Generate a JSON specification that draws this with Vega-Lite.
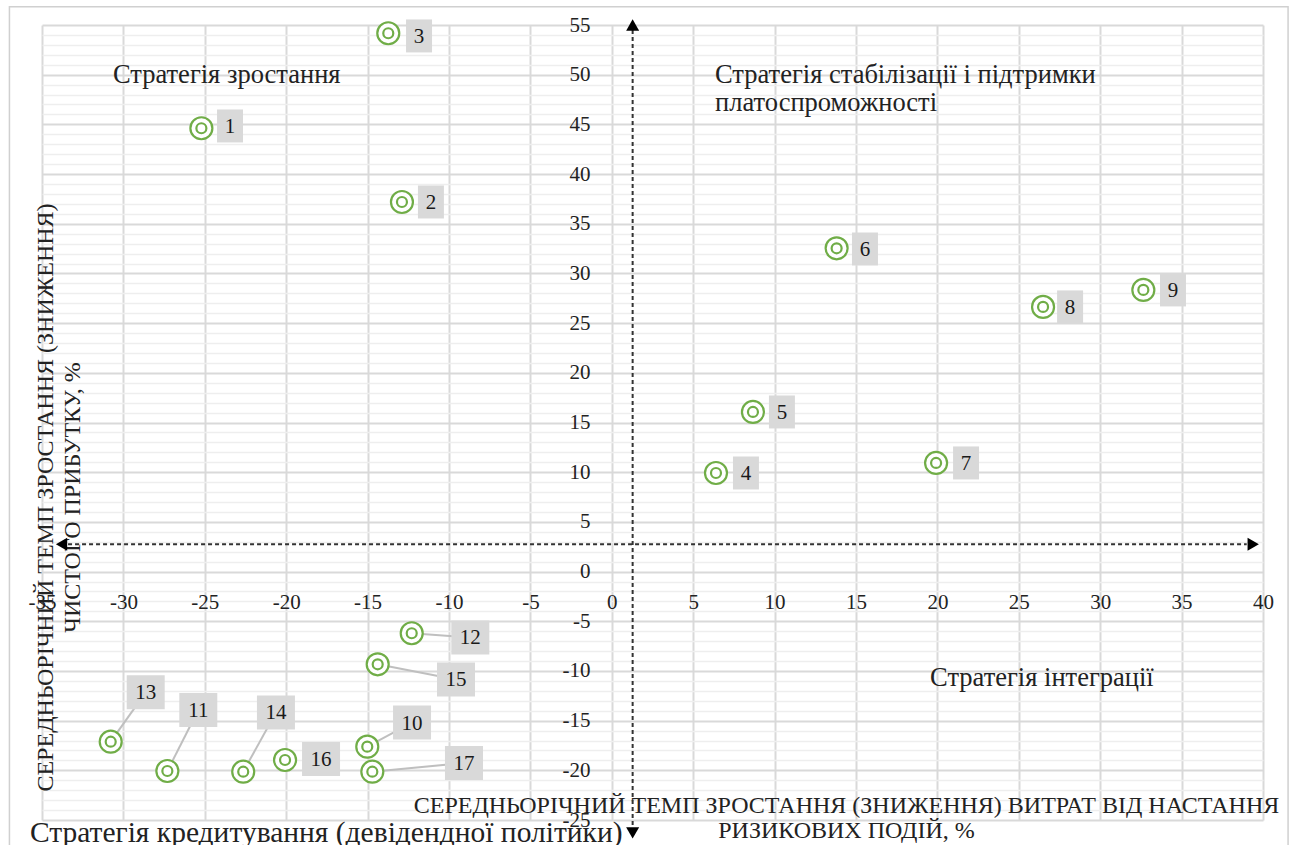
{
  "$schema": "https://vega.github.io/schema/vega-lite/v6.json",
  "width": 1221,
  "height": 795,
  "autosize": "none",
  "padding": {"left": 42, "top": 25, "right": 27, "bottom": 25},
  "background": "white",
  "config": {"view": {"stroke": null}, "font": "Liberation Serif"},
  "datasets": {
    "pts": [
      {"label": "1", "x": -25.21, "y": 44.61, "bx": -23.45, "by": 44.84, "leader": false},
      {"label": "2", "x": -12.89, "y": 37.19, "bx": -11.11, "by": 37.19, "leader": false},
      {"label": "3", "x": -13.73, "y": 54.17, "bx": -11.84, "by": 53.9, "leader": false},
      {"label": "4", "x": 6.4, "y": 9.92, "bx": 8.24, "by": 9.92, "leader": false},
      {"label": "5", "x": 8.67, "y": 16.06, "bx": 10.45, "by": 16.06, "leader": false},
      {"label": "6", "x": 13.81, "y": 32.53, "bx": 15.55, "by": 32.46, "leader": false},
      {"label": "7", "x": 19.92, "y": 10.93, "bx": 21.76, "by": 10.93, "leader": false},
      {"label": "8", "x": 26.49, "y": 26.63, "bx": 28.15, "by": 26.63, "leader": false},
      {"label": "9", "x": 32.65, "y": 28.34, "bx": 34.47, "by": 28.34, "leader": false},
      {"label": "10", "x": -15.02, "y": -17.62, "bx": -12.27, "by": -15.2, "leader": true},
      {"label": "11", "x": -27.3, "y": -20.07, "bx": -25.4, "by": -13.93, "leader": true},
      {"label": "12", "x": -12.29, "y": -6.21, "bx": -8.69, "by": -6.63, "leader": true},
      {"label": "13", "x": -30.78, "y": -17.12, "bx": -28.63, "by": -12.15, "leader": true},
      {"label": "14", "x": -22.64, "y": -20.14, "bx": -20.63, "by": -14.18, "leader": true},
      {"label": "15", "x": -14.38, "y": -9.33, "bx": -9.57, "by": -10.86, "leader": true},
      {"label": "16", "x": -20.07, "y": -18.96, "bx": -17.86, "by": -18.86, "leader": false},
      {"label": "17", "x": -14.71, "y": -20.14, "bx": -9.08, "by": -19.26, "leader": true}
    ],
    "notes": [
      {"t": "Стратегія зростання", "x": -30.64, "y": 49.97, "big": false},
      {"t": "Стратегія стабілізації і підтримки", "x": 6.34, "y": 49.97, "big": false},
      {"t": "платоспроможності", "x": 6.34, "y": 47.15, "big": false},
      {"t": "Стратегія інтеграції", "x": 19.55, "y": -10.71, "big": false},
      {"t": "Стратегія кредитування (девідендної політики)", "x": -35.74, "y": -26.3, "big": true}
    ],
    "dividers": [
      {"x": 1.28, "x2": 1.28, "y": 54.5, "y2": -25.8},
      {"x": -33.4, "x2": 39.0, "y": 2.75, "y2": 2.75}
    ],
    "heads": [
      {"x": 1.28, "y": 55.0, "dir": "up"},
      {"x": 1.28, "y": -26.3, "dir": "down"},
      {"x": -33.8, "y": 2.75, "dir": "left"},
      {"x": 39.4, "y": 2.75, "dir": "right"}
    ],
    "frame": [
      {"x": -37.0, "x2": 41.54, "y": 56.84, "y2": -28.5}
    ]
  },
  "encoding": {
    "x": {
      "field": "x", "type": "quantitative",
      "scale": {"domain": [-35, 40], "nice": false, "zero": false},
      "axis": {
        "values": [-35, -30, -25, -20, -15, -10, -5, 0, 5, 10, 15, 20, 25, 30, 35, 40],
        "labelExpr": "'' + datum.value",
        "grid": true, "gridColor": "#D9D9D9", "gridWidth": 2,
        "domain": false, "ticks": false,
        "offset": -248.4, "labelPadding": 20,
        "labelFont": "Liberation Serif", "labelFontSize": 21, "labelColor": "#222222",
        "labelFlush": false, "labelOverlap": false,
        "title": ["СЕРЕДНЬОРІЧНИЙ ТЕМП ЗРОСТАННЯ (ЗНИЖЕННЯ) ВИТРАТ ВІД НАСТАННЯ", "РИЗИКОВИХ ПОДІЙ, %"],
        "titleX": 804, "titleY": 233.4, "titleAlign": "center", "titleBaseline": "middle",
        "titleFont": "Liberation Serif", "titleFontSize": 24, "titleFontWeight": "normal",
        "titleColor": "#222222", "titleLineHeight": 25, "zindex": 0
      }
    },
    "y": {
      "field": "y", "type": "quantitative",
      "scale": {"domain": [-25, 55], "nice": false, "zero": false},
      "axis": {
        "values": [-25,-24,-23,-22,-21,-20,-19,-18,-17,-16,-15,-14,-13,-12,-11,-10,-9,-8,-7,-6,-5,-4,-3,-2,-1,0,1,2,3,4,5,6,7,8,9,10,11,12,13,14,15,16,17,18,19,20,21,22,23,24,25,26,27,28,29,30,31,32,33,34,35,36,37,38,39,40,41,42,43,44,45,46,47,48,49,50,51,52,53,54,55],
        "grid": true,
        "gridColor": {"condition": {"test": "datum.value % 5 === 0", "value": "#D9D9D9"}, "value": "#EEEEEE"},
        "gridWidth": {"condition": {"test": "datum.value % 5 === 0", "value": 2}, "value": 1.5},
        "labelExpr": "datum.value % 5 === 0 ? '' + datum.value : ''",
        "domain": false, "ticks": false,
        "offset": -570, "labelPadding": 22,
        "labelFont": "Liberation Serif", "labelFontSize": 21, "labelColor": "#222222",
        "labelFlush": false, "labelOverlap": false,
        "title": ["СЕРЕДНЬОРІЧНИЙ ТЕМП ЗРОСТАННЯ (ЗНИЖЕННЯ)", "ЧИСТОГО ПРИБУТКУ, %"],
        "titleX": -566.8, "titleY": 472, "titleAngle": -90, "titleAlign": "center", "titleBaseline": "middle",
        "titleFont": "Liberation Serif", "titleFontSize": 24, "titleFontWeight": "normal",
        "titleColor": "#222222", "titleLineHeight": 27, "zindex": 0
      }
    }
  },
  "layer": [
    {
      "data": {"name": "frame"},
      "mark": {"type": "rect", "fill": null, "stroke": "#D0D0D0", "strokeWidth": 1.5},
      "encoding": {
        "x2": {"field": "x2"},
        "y2": {"field": "y2"}
      }
    },
    {
      "data": {"name": "dividers"},
      "mark": {"type": "rule", "color": "#333333", "strokeWidth": 2, "strokeDash": [4, 3]},
      "encoding": {
        "x2": {"field": "x2"},
        "y2": {"field": "y2"}
      }
    },
    {
      "data": {"name": "heads"},
      "mark": {"type": "point", "filled": true, "color": "#000000", "size": 170, "opacity": 1},
      "encoding": {
        "shape": {
          "field": "dir", "type": "nominal", "legend": null,
          "scale": {"domain": ["up", "down", "left", "right"], "range": ["triangle-up", "triangle-down", "triangle-left", "triangle-right"]}
        }
      }
    },
    {
      "data": {"name": "pts"},
      "transform": [{"filter": "datum.leader"}],
      "mark": {"type": "rule", "color": "#BFBFBF", "strokeWidth": 2},
      "encoding": {
        "x2": {"field": "bx"},
        "y2": {"field": "by"}
      }
    },
    {
      "data": {"name": "pts"},
      "mark": {"type": "point", "filled": true, "color": "#D9D9D9", "opacity": 1, "size": 1444},
      "encoding": {
        "x": {"field": "bx", "type": "quantitative"},
        "y": {"field": "by", "type": "quantitative"},
        "shape": {
          "condition": {"test": "length(datum.label) > 1", "value": "M-1,-0.895H1V0.895H-1Z"},
          "value": "M-0.684,-0.868H0.684V0.868H-0.684Z"
        }
      }
    },
    {
      "data": {"name": "pts"},
      "mark": {"type": "point", "shape": "circle", "filled": false, "fill": "white", "fillOpacity": 1, "stroke": "#70AD47", "strokeWidth": 2.2, "opacity": 1, "size": 484}
    },
    {
      "data": {"name": "pts"},
      "mark": {"type": "point", "shape": "circle", "filled": false, "stroke": "#70AD47", "strokeWidth": 2.2, "opacity": 1, "size": 100}
    },
    {
      "data": {"name": "pts"},
      "mark": {"type": "text", "font": "Liberation Serif", "fontSize": 21, "color": "#1A1A1A", "align": "center", "baseline": "middle", "dy": 1},
      "encoding": {
        "x": {"field": "bx", "type": "quantitative"},
        "y": {"field": "by", "type": "quantitative"},
        "text": {"field": "label"}
      }
    },
    {
      "data": {"name": "notes"},
      "mark": {"type": "text", "font": "Liberation Serif", "color": "#222222", "align": "left", "baseline": "middle"},
      "encoding": {
        "text": {"field": "t"},
        "size": {"condition": {"test": "datum.big", "value": 29.5}, "value": 26.5}
      }
    }
  ]
}
